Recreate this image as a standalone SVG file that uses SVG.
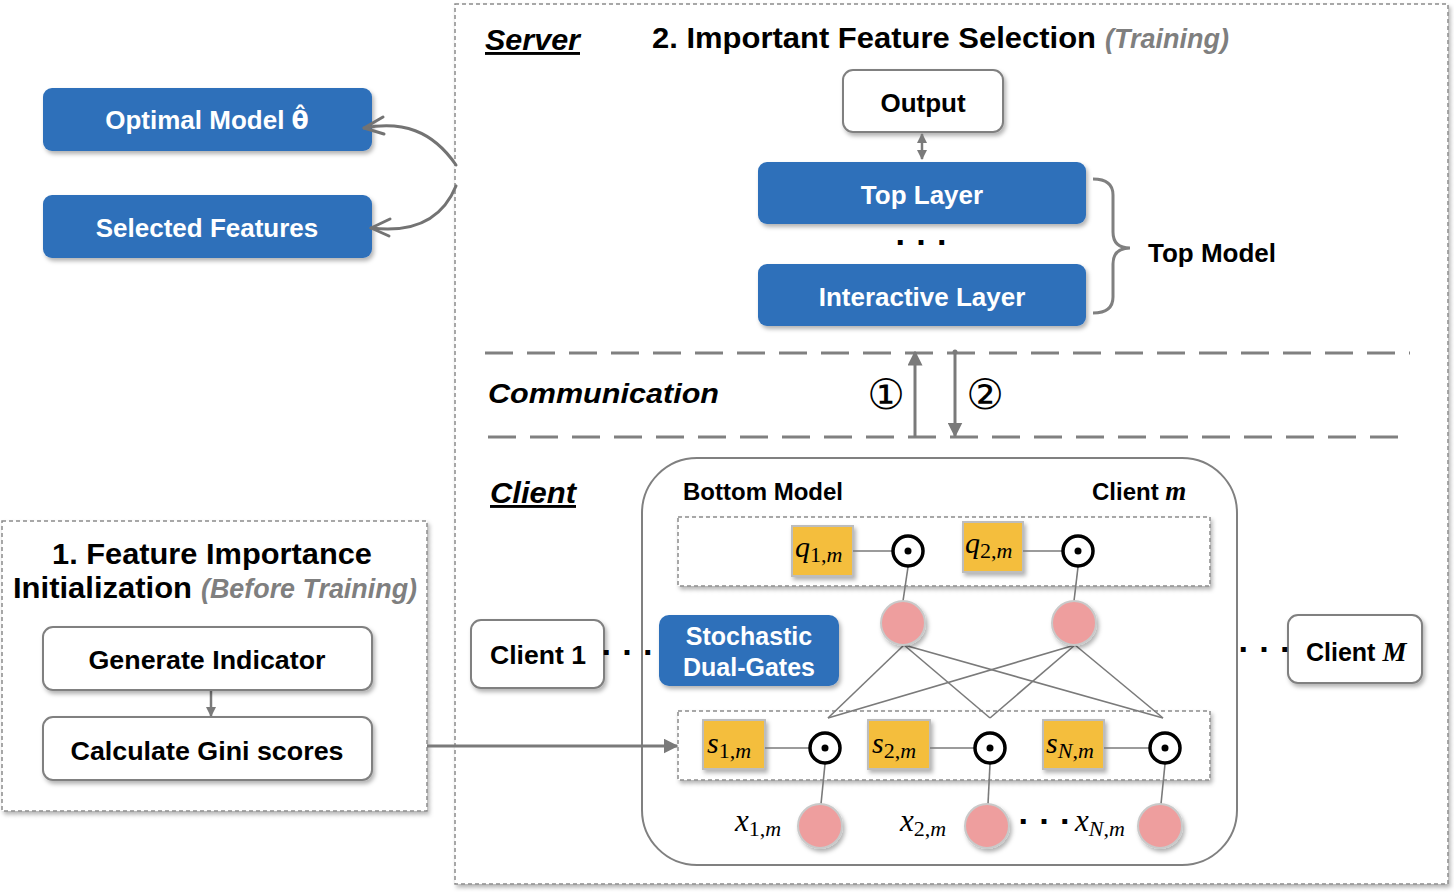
<svg xmlns="http://www.w3.org/2000/svg" width="1454" height="892" viewBox="0 0 1454 892">
<defs>
<filter id="sh" x="-10%" y="-10%" width="130%" height="140%"><feDropShadow dx="2" dy="3" stdDeviation="2" flood-color="#000" flood-opacity="0.3"/></filter>
<marker id="tri" viewBox="0 0 10 10" refX="9" refY="5" markerWidth="5" markerHeight="5" orient="auto-start-reverse" markerUnits="strokeWidth"><path d="M0,0 L10,5 L0,10 z" fill="#7a7a7a"/></marker>
<marker id="tri2" viewBox="0 0 10 10" refX="9" refY="5" markerWidth="4" markerHeight="4" orient="auto-start-reverse" markerUnits="strokeWidth"><path d="M0,0 L10,5 L0,10 z" fill="#7a7a7a"/></marker>
</defs>
<style>
.blue{fill:#2E70BA;filter:url(#sh)}
.white{fill:#fff;stroke:#808080;stroke-width:2;filter:url(#sh)}
.dash{fill:#fff;stroke:#8c8c8c;stroke-width:1.5;stroke-dasharray:4 3}
.wt{font-family:"Liberation Sans",Arial,sans-serif;font-weight:bold;fill:#fff;text-anchor:middle}
.bt{font-family:"Liberation Sans",Arial,sans-serif;font-weight:bold;fill:#000}
.gt{font-family:"Liberation Sans",Arial,sans-serif;font-weight:bold;font-style:italic;fill:#7f7f7f}
.m{font-family:"Liberation Serif","Times New Roman",serif;font-style:italic;fill:#000}
.sq{fill:#F4BE3C;stroke:#bdbdbd;stroke-width:2;filter:url(#sh)}
.pk{fill:#EE9E9E;stroke:#c9c9c9;stroke-width:2;filter:url(#sh)}
.od{fill:#fff;stroke:#000;stroke-width:3.5}
.ln{stroke:#7a7a7a;stroke-width:1.6;fill:none}
.cv{stroke:#737373;stroke-width:3;fill:none;stroke-linecap:round;stroke-linejoin:round}
.hd{stroke:#808080;stroke-width:3;stroke-dasharray:28 14;fill:none}
.dots{font-family:"Liberation Sans",Arial,sans-serif;font-weight:bold;fill:#000;text-anchor:middle;font-size:34px}
</style>

<!-- frames -->
<g id="server-frame"><rect x="455" y="4" width="993" height="880" class="dash" filter="url(#sh)"/></g>
<g id="init-frame"><rect x="2" y="521" width="425" height="290" class="dash" filter="url(#sh)"/></g>

<!-- headings -->
<g id="headings">
<text x="485" y="50" class="bt" font-size="29" font-style="italic" text-decoration="underline" textLength="95" lengthAdjust="spacingAndGlyphs">Server</text>
<text x="652" y="48" class="bt" font-size="30" textLength="444" lengthAdjust="spacingAndGlyphs">2. Important Feature Selection</text>
<text x="1105" y="48" class="gt" font-size="28" textLength="124" lengthAdjust="spacingAndGlyphs">(Training)</text>
<text x="488" y="403" class="bt" font-size="28" font-style="italic" textLength="231" lengthAdjust="spacingAndGlyphs">Communication</text>
<text x="490" y="503" class="bt" font-size="29" font-style="italic" text-decoration="underline" textLength="86" lengthAdjust="spacingAndGlyphs">Client</text>
<text x="212" y="564" class="bt" font-size="29" text-anchor="middle" textLength="320" lengthAdjust="spacingAndGlyphs">1. Feature Importance</text>
<text x="13" y="598" class="bt" font-size="29" textLength="179" lengthAdjust="spacingAndGlyphs">Initialization</text>
<text x="201" y="598" class="gt" font-size="28" textLength="216" lengthAdjust="spacingAndGlyphs">(Before Training)</text>
</g>

<!-- left outputs -->
<g id="optimal-model"><rect x="43" y="88" width="329" height="63" rx="9" class="blue"/><text x="207" y="129" class="wt" font-size="26">Optimal Model <tspan font-family="'DejaVu Sans',sans-serif" font-size="25">θ̂</tspan></text></g>
<g id="selected-features"><rect x="43" y="195" width="329" height="63" rx="9" class="blue"/><text x="207" y="237" class="wt" font-size="26">Selected Features</text></g>

<!-- top model -->
<g id="output"><rect x="843" y="70" width="160" height="62" rx="10" class="white"/><text x="923" y="112" class="bt" font-size="26" text-anchor="middle">Output</text></g>
<g id="top-layer"><rect x="758" y="162" width="328" height="62" rx="9" class="blue"/><text x="922" y="204" class="wt" font-size="26">Top Layer</text></g>
<g id="layer-dots"><text x="922" y="254" class="dots">· · ·</text></g>
<g id="interactive-layer"><rect x="758" y="264" width="328" height="62" rx="9" class="blue"/><text x="922" y="306" class="wt" font-size="26">Interactive Layer</text></g>
<g id="top-model-brace">
<path d="M1093,179 Q1113,179 1113,195 L1113,232 Q1113,248 1130,248 Q1113,248 1113,264 L1113,297 Q1113,313 1093,313" fill="none" stroke="#808080" stroke-width="3"/>
<text x="1148" y="262" class="bt" font-size="26">Top Model</text>
</g>

<!-- communication dashed lines -->
<g id="comm-lines">
<line x1="485" y1="353" x2="1410" y2="353" class="hd"/>
<line x1="488" y1="437" x2="1410" y2="437" class="hd"/>
<text x="886" y="409" font-family="'DejaVu Sans',sans-serif" font-size="42" text-anchor="middle">①</text>
<text x="985" y="409" font-family="'DejaVu Sans',sans-serif" font-size="42" text-anchor="middle">②</text>
</g>

<!-- client m -->
<g id="client-m">
<rect x="642" y="458" width="595" height="407" rx="55" fill="#fff" stroke="#808080" stroke-width="2"/>
<text x="683" y="500" class="bt" font-size="24">Bottom Model</text>
<text x="1092" y="500" class="bt" font-size="24">Client <tspan class="m" font-weight="bold" font-size="27">m</tspan></text>
<rect x="678" y="517" width="532" height="69" class="dash" filter="url(#sh)"/>
<rect x="678" y="711" width="532" height="69" class="dash" filter="url(#sh)"/>
</g>

<g id="q-row">
<rect x="792" y="526" width="61" height="50" class="sq"/>
<text x="795" y="557" class="m" font-size="30">q<tspan font-size="22" dy="5" font-style="normal">1,</tspan><tspan font-size="22">m</tspan></text>
<rect x="963" y="522" width="60" height="50" class="sq"/>
<text x="965" y="553" class="m" font-size="30">q<tspan font-size="22" dy="5" font-style="normal">2,</tspan><tspan font-size="22">m</tspan></text>
</g>

<g id="s-row">
<rect x="703" y="720" width="62" height="49" class="sq"/>
<text x="707" y="753" class="m" font-size="30">s<tspan font-size="22" dy="5" font-style="normal">1,</tspan><tspan font-size="22">m</tspan></text>
<rect x="868" y="720" width="62" height="49" class="sq"/>
<text x="872" y="753" class="m" font-size="30">s<tspan font-size="22" dy="5" font-style="normal">2,</tspan><tspan font-size="22">m</tspan></text>
<rect x="1043" y="720" width="61" height="49" class="sq"/>
<text x="1046" y="753" class="m" font-size="30">s<tspan font-size="22" dy="5">N</tspan><tspan font-size="22" font-style="normal">,</tspan><tspan font-size="22">m</tspan></text>
</g>

<!-- connectors -->
<g id="connectors">
<path d="M456,165 C432,130 402,121 364,128" class="cv"/>
<path d="M383,117 L364,128 L384,134" class="cv"/>
<path d="M456,186 C442,220 412,233 371,228" class="cv"/>
<path d="M390,219 L371,228 L389,236" class="cv"/>
<line x1="922" y1="134" x2="922" y2="159" stroke="#7a7a7a" stroke-width="2.5" marker-start="url(#tri2)" marker-end="url(#tri2)"/>
<line x1="915" y1="437" x2="915" y2="352" stroke="#7a7a7a" stroke-width="3" marker-end="url(#tri)"/>
<line x1="955" y1="352" x2="955" y2="436" stroke="#7a7a7a" stroke-width="3" marker-end="url(#tri)"/>
<circle cx="955" cy="352" r="2.5" fill="#7a7a7a"/>
<line x1="211" y1="690" x2="211" y2="716" stroke="#7a7a7a" stroke-width="2.5" marker-end="url(#tri2)"/>
<line x1="427" y1="746" x2="677" y2="746" stroke="#7a7a7a" stroke-width="3" marker-end="url(#tri)"/>
<!-- q row -->
<line x1="853" y1="551" x2="892" y2="551" class="ln"/>
<line x1="1023" y1="551" x2="1062" y2="551" class="ln"/>
<line x1="908" y1="567" x2="903" y2="601" class="ln"/>
<line x1="1078" y1="567" x2="1074" y2="601" class="ln"/>
<!-- dense -->
<line x1="904" y1="645" x2="828" y2="718" class="ln"/>
<line x1="904" y1="645" x2="990" y2="718" class="ln"/>
<line x1="904" y1="645" x2="1163" y2="718" class="ln"/>
<line x1="1075" y1="645" x2="828" y2="718" class="ln"/>
<line x1="1075" y1="645" x2="990" y2="718" class="ln"/>
<line x1="1075" y1="645" x2="1163" y2="718" class="ln"/>
<!-- s row -->
<line x1="765" y1="748" x2="809" y2="748" class="ln"/>
<line x1="930" y1="748" x2="974" y2="748" class="ln"/>
<line x1="1104" y1="748" x2="1149" y2="748" class="ln"/>
<line x1="825" y1="764" x2="821" y2="804" class="ln"/>
<line x1="990" y1="764" x2="988" y2="804" class="ln"/>
<line x1="1165" y1="764" x2="1161" y2="804" class="ln"/>
</g>

<g id="odots">
<circle cx="908" cy="551" r="15" class="od"/><circle cx="908" cy="551" r="3.5"/>
<circle cx="1078" cy="551" r="15" class="od"/><circle cx="1078" cy="551" r="3.5"/>
<circle cx="825" cy="748" r="15" class="od"/><circle cx="825" cy="748" r="3.5"/>
<circle cx="990" cy="748" r="15" class="od"/><circle cx="990" cy="748" r="3.5"/>
<circle cx="1165" cy="748" r="15" class="od"/><circle cx="1165" cy="748" r="3.5"/>
</g>

<g id="hidden-nodes">
<circle cx="903" cy="623" r="22" class="pk"/>
<circle cx="1074" cy="623" r="22" class="pk"/>
</g>

<g id="input-nodes">
<circle cx="820" cy="826" r="22" class="pk"/>
<circle cx="987" cy="826" r="22" class="pk"/>
<circle cx="1160" cy="826" r="22" class="pk"/>
<text x="735" y="831" class="m" font-size="31">x<tspan font-size="22" dy="5" font-style="normal">1,</tspan><tspan font-size="22">m</tspan></text>
<text x="900" y="831" class="m" font-size="31">x<tspan font-size="22" dy="5" font-style="normal">2,</tspan><tspan font-size="22">m</tspan></text>
<text x="1045" y="833" class="dots">· · ·</text>
<text x="1075" y="831" class="m" font-size="31">x<tspan font-size="22" dy="5">N</tspan><tspan font-size="22" font-style="normal">,</tspan><tspan font-size="22">m</tspan></text>
</g>

<g id="stochastic-dual-gates"><rect x="659" y="615" width="180" height="71" rx="10" class="blue"/>
<text x="749" y="645" class="wt" font-size="25">Stochastic</text>
<text x="749" y="676" class="wt" font-size="25">Dual-Gates</text></g>

<g id="client-1"><rect x="471" y="620" width="133" height="68" rx="10" class="white"/><text x="538" y="664" class="bt" font-size="25" text-anchor="middle" textLength="96" lengthAdjust="spacingAndGlyphs">Client 1</text>
<text x="628" y="664" class="dots">· · ·</text></g>

<g id="client-M"><rect x="1288" y="615" width="134" height="68" rx="10" class="white"/><text x="1306" y="661" class="bt" font-size="25">Client <tspan class="m" font-weight="bold" font-size="27">M</tspan></text>
<text x="1265" y="661" class="dots">· · ·</text></g>

<g id="generate-indicator"><rect x="43" y="627" width="329" height="63" rx="10" class="white"/><text x="207" y="669" class="bt" font-size="26" text-anchor="middle" textLength="237" lengthAdjust="spacingAndGlyphs">Generate Indicator</text></g>
<g id="calculate-gini"><rect x="43" y="717" width="329" height="63" rx="10" class="white"/><text x="207" y="760" class="bt" font-size="26" text-anchor="middle" textLength="273" lengthAdjust="spacingAndGlyphs">Calculate Gini scores</text></g>
</svg>
